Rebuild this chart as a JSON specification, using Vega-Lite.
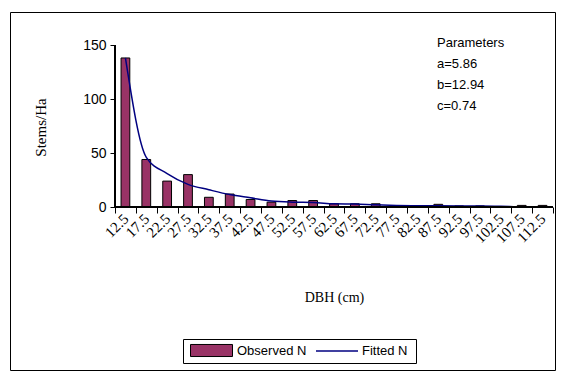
{
  "$schema": "https://vega.github.io/schema/vega-lite/v6.json",
  "width": 545,
  "height": 358,
  "autosize": {"type": "none"},
  "padding": {"left": 10, "top": 12, "right": 10, "bottom": 6},
  "background": "white",
  "config": {
    "view": {"stroke": "black", "strokeWidth": 1, "fill": "white"},
    "axis": {"grid": false},
    "legend": {
      "orient": "none",
      "direction": "horizontal",
      "padding": 4,
      "symbolSize": 196,
      "labelFont": "Liberation Sans",
      "labelFontSize": 13,
      "labelColor": "black"
    }
  },
  "title": {
    "text": ["Parameters", "a=5.86", "b=12.94", "c=0.74"],
    "orient": "top",
    "anchor": "start",
    "frame": "group",
    "offset": 0,
    "baseline": "top",
    "dx": 427,
    "dy": 101,
    "font": "Liberation Sans",
    "fontSize": 13,
    "fontWeight": "normal",
    "lineHeight": 21,
    "color": "black"
  },
  "data": {
    "values": [
      {"dbh": "12.5", "observed": 138, "fitted": 138},
      {"dbh": "17.5", "observed": 44, "fitted": 46},
      {"dbh": "22.5", "observed": 24, "fitted": 31},
      {"dbh": "27.5", "observed": 30, "fitted": 21},
      {"dbh": "32.5", "observed": 9, "fitted": 16},
      {"dbh": "37.5", "observed": 12, "fitted": 11.5},
      {"dbh": "42.5", "observed": 7, "fitted": 8.5},
      {"dbh": "47.5", "observed": 4.5, "fitted": 5.5},
      {"dbh": "52.5", "observed": 6, "fitted": 4.5},
      {"dbh": "57.5", "observed": 6, "fitted": 4.2},
      {"dbh": "62.5", "observed": 3, "fitted": 3},
      {"dbh": "67.5", "observed": 3, "fitted": 2.7},
      {"dbh": "72.5", "observed": 3, "fitted": 2},
      {"dbh": "77.5", "observed": 0, "fitted": 1.5},
      {"dbh": "82.5", "observed": 1, "fitted": 1.2},
      {"dbh": "87.5", "observed": 2.5, "fitted": 1.1},
      {"dbh": "92.5", "observed": 1, "fitted": 1},
      {"dbh": "97.5", "observed": 1, "fitted": 1},
      {"dbh": "102.5", "observed": 0, "fitted": 0.7},
      {"dbh": "107.5", "observed": 1.5, "fitted": 0.1},
      {"dbh": "112.5", "observed": 1.5, "fitted": 0}
    ]
  },
  "encoding": {
    "x": {
      "field": "dbh",
      "type": "nominal",
      "sort": null,
      "scale": {"type": "band", "paddingInner": 0, "paddingOuter": 0, "range": [105, 543]},
      "axis": {
        "orient": "bottom",
        "offset": -163,
        "domain": false,
        "tickBand": "extent",
        "tickSize": 6,
        "tickColor": "black",
        "labelAngle": -45,
        "labelAlign": "right",
        "labelBaseline": "middle",
        "labelOverlap": false,
        "labelPadding": 3,
        "labelFont": "Liberation Serif",
        "labelFontSize": 15,
        "labelColor": "black",
        "title": "DBH (cm)",
        "titleFont": "Liberation Serif",
        "titleFontSize": 14,
        "titleFontWeight": "normal",
        "titleColor": "black",
        "titleX": 324,
        "titleY": 90,
        "titleBaseline": "middle",
        "titleAlign": "center"
      }
    }
  },
  "layer": [
    {
      "mark": {"type": "bar", "width": {"band": 0.42}, "stroke": "black", "strokeWidth": 1},
      "encoding": {
        "y": {
          "field": "observed",
          "type": "quantitative",
          "scale": {"domain": [-150.9, 180.56], "nice": false, "zero": false},
          "axis": {
            "orient": "left",
            "offset": -105,
            "values": [0, 50, 100, 150],
            "domain": false,
            "tickSize": 5,
            "tickColor": "black",
            "labelFont": "Liberation Sans",
            "labelFontSize": 14,
            "labelColor": "black",
            "labelPadding": 4,
            "title": "Stems/Ha",
            "titleFont": "Liberation Serif",
            "titleFontSize": 15,
            "titleFontWeight": "normal",
            "titleColor": "black",
            "titleAngle": -90,
            "titleX": -75,
            "titleY": 115,
            "titleAlign": "center",
            "titleBaseline": "middle"
          }
        },
        "y2": {"datum": 0},
        "fill": {
          "datum": "Observed N",
          "scale": {"domain": ["Observed N"], "range": ["#993366"]},
          "legend": {
            "title": " ",
            "titleOrient": "right",
            "titlePadding": 106,
            "legendX": 173,
            "legendY": 327,
            "strokeColor": "black",
            "symbolType": "M-3,-0.86H3V0.86H-3Z",
            "symbolOffset": 17,
            "labelOffset": 18,
            "symbolStrokeColor": "black",
            "symbolStrokeWidth": 1
          }
        }
      }
    },
    {
      "mark": {"type": "line", "interpolate": "monotone", "strokeWidth": 1.5},
      "encoding": {
        "y": {"field": "fitted", "type": "quantitative"},
        "stroke": {
          "datum": "Fitted N",
          "scale": {"domain": ["Fitted N"], "range": ["#000080"]},
          "legend": {
            "title": null,
            "legendX": 301,
            "legendY": 327,
            "symbolType": "M-3,0H3",
            "symbolOffset": 14,
            "labelOffset": 17,
            "symbolStrokeWidth": 1.5
          }
        }
      }
    },
    {
      "mark": {"type": "rule", "color": "black", "strokeWidth": 1},
      "encoding": {
        "x": {"datum": "12.5", "bandPosition": 0},
        "y": {"datum": 0},
        "y2": {"datum": 150}
      }
    },
    {
      "mark": {"type": "rule", "color": "black", "strokeWidth": 1},
      "encoding": {
        "x": {"datum": "12.5", "bandPosition": 0},
        "x2": {"datum": "112.5", "bandPosition": 1},
        "y": {"datum": 0}
      }
    }
  ]
}
